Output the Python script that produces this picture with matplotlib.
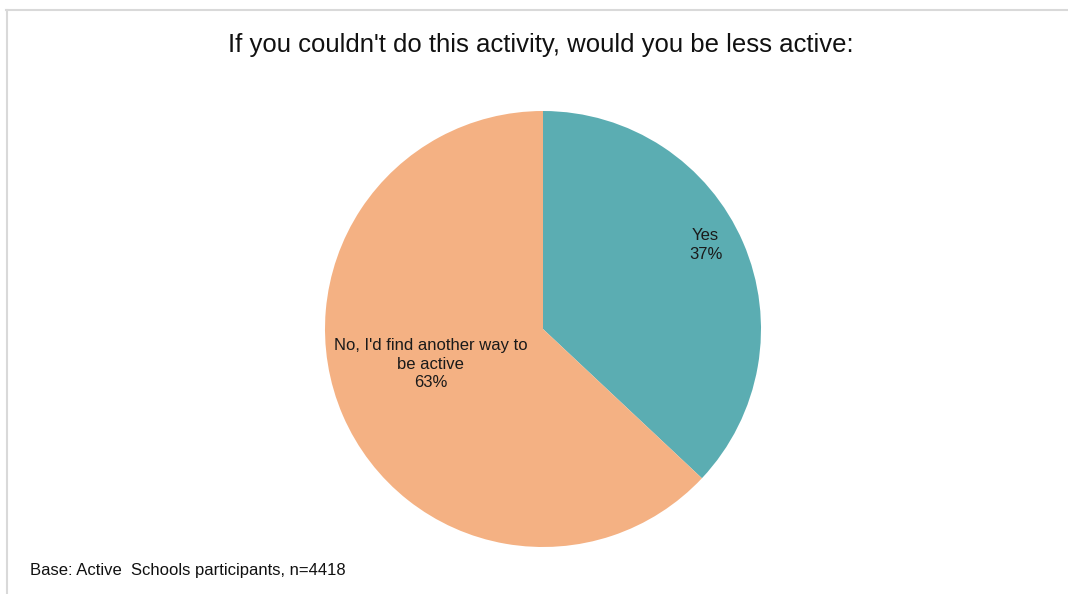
import numpy as np
import matplotlib.pyplot as plt
from matplotlib.lines import Line2D

plt.rcParams['font.family'] = ['Liberation Sans', 'DejaVu Sans']

title = "If you couldn't do this activity, would you be less active:"
categories = ['Yes', "No, I'd find another way to\nbe active"]
shares = [37, 63]
colors = ['#5badb2', '#f4b183']
footnote = 'Base: Active  Schools participants, n=4418'

W, H = 1068, 594
fig = plt.figure(figsize=(W / 100, H / 100), dpi=100)
fig.patch.set_facecolor('white')

# outer chart border (only top and left visible in the crop)
fig.add_artist(Line2D([6 / W, 1], [1 - 9.5 / H, 1 - 9.5 / H],
                      color='#d9d9d9', lw=1.5, transform=fig.transFigure))
fig.add_artist(Line2D([6.5 / W, 6.5 / W], [0, 1 - 9.5 / H],
                      color='#d9d9d9', lw=1.5, transform=fig.transFigure))

cx, cy, r = 543, 329, 218
ax = fig.add_axes([(cx - r) / W, (H - cy - r) / H, 2 * r / W, 2 * r / H])
wedges, _ = ax.pie(shares, colors=colors, startangle=90, counterclock=False,
                   radius=1, wedgeprops={'linewidth': 0})
ax.set_xlim(-1, 1)
ax.set_ylim(-1, 1)
ax.set_aspect('equal')
ax.axis('off')

# label placement: (radius fraction, angle tweak in degrees)
label_pos = [(0.84, 4), (0.54, -6)]
for w, cat, val, (rf, dt) in zip(wedges, categories, shares, label_pos):
    ang = np.deg2rad((w.theta1 + w.theta2) / 2 + dt)
    ax.text(rf * np.cos(ang), rf * np.sin(ang), f'{cat}\n{val}%',
            ha='center', va='center', fontsize=12, color='#1a1a1a',
            linespacing=1.3)

fig.text(541 / W, 1 - 45 / H, title, ha='center', va='center',
         fontsize=18.5, color='#111111')
fig.text(30 / W, 1 - 570 / H, footnote, ha='left', va='center',
         fontsize=12, color='#111111')

fig.savefig('out.png', dpi=100)
